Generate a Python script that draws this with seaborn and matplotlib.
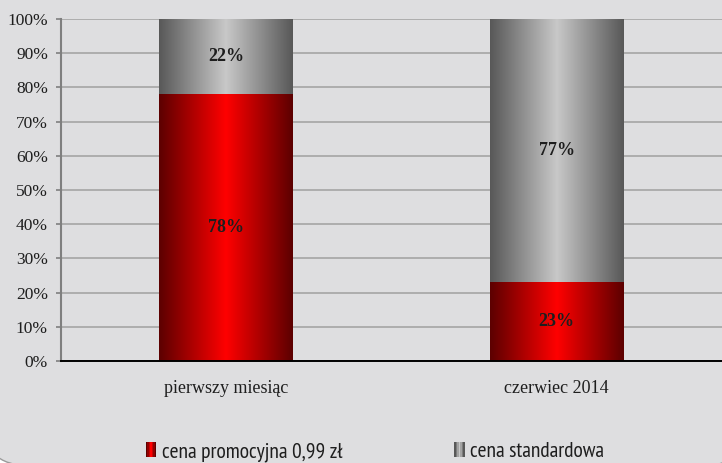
import numpy as np
import pandas as pd
import matplotlib
matplotlib.use("Agg")
import matplotlib.pyplot as plt
import seaborn as sns
from matplotlib.patches import Rectangle, FancyBboxPatch
from matplotlib.legend_handler import HandlerBase
from matplotlib.transforms import IdentityTransform

# --- data -------------------------------------------------------------
categories = ["pierwszy miesiąc", "czerwiec 2014"]
promo = [78, 23]          # cena promocyjna 0,99 zł (%)
standard = [22, 77]       # cena standardowa (%)
series_names = ["cena promocyjna 0,99 zł", "cena standardowa"]
y_ticks = list(range(0, 101, 10))

# --- styling ----------------------------------------------------------
sns.set_theme(style="white")
plt.rcParams["font.family"] = ["Liberation Serif", "DejaVu Serif"]

BG = "#dedee0"
RED_EDGE, RED_CENTRE = np.array([92, 0, 0]), np.array([255, 0, 0])
GREY_EDGE, GREY_CENTRE = np.array([88, 88, 88]), np.array([200, 200, 200])
TEXT = "#1e1e1e"

fig = plt.figure(figsize=(7.22, 4.63), dpi=100, facecolor="white")

# rounded chart-area frame (pixel coordinates)
frame = FancyBboxPatch((-19, -3), 770, 500,
                       boxstyle="round,pad=0,rounding_size=50",
                       transform=IdentityTransform(), facecolor=BG,
                       edgecolor="#9a9a9a", lw=1.0, zorder=-1)
fig.patches.append(frame)

ax = fig.add_axes([61 / 722, 1 - 361 / 463, 1 - 61 / 722, (361 - 19) / 463])
ax.set_facecolor("none")

df = pd.DataFrame({
    "kategoria": categories,
    "promo": promo,
    "total": [p + s for p, s in zip(promo, standard)],
})

BAR_W = 0.405
sns.barplot(data=df, x="kategoria", y="total", color="#a0a0a0",
            width=BAR_W, errorbar=None, ax=ax)
n_total = len(ax.patches)
sns.barplot(data=df, x="kategoria", y="promo", color="red",
            width=BAR_W, errorbar=None, ax=ax)


def shade(edge, centre, n=256):
    t = np.linspace(0, 1, n)
    k = 1 - np.abs(2 * t - 1)
    return (edge + (centre - edge) * k[:, None]) / 255.0


def gradient_fill(patch, edge, centre, z):
    x0, y0 = patch.get_x(), patch.get_y()
    w, h = patch.get_width(), patch.get_height()
    img = shade(edge, centre)[None, :, :]
    ax.imshow(img, extent=(x0, x0 + w, y0, y0 + h), aspect="auto",
              interpolation="bilinear", zorder=z)
    patch.set_visible(False)


patches = list(ax.patches)
for p in patches[:n_total]:
    gradient_fill(p, GREY_EDGE, GREY_CENTRE, 2)
for p in patches[n_total:]:
    gradient_fill(p, RED_EDGE, RED_CENTRE, 3)

# value labels inside each segment
for i, (p_val, s_val) in enumerate(zip(promo, standard)):
    ax.text(i, p_val / 2, f"{p_val}%", ha="center", va="center",
            fontsize=13, fontweight="bold", color=TEXT, zorder=5)
    ax.text(i, p_val + s_val / 2, f"{s_val}%", ha="center", va="center",
            fontsize=13, fontweight="bold", color=TEXT, zorder=5)

# --- axes -------------------------------------------------------------
ax.set_xlim(-0.5, 1.48)
ax.set_ylim(0, 100)
ax.set_xlabel("")
ax.set_ylabel("")

ax.set_yticks(y_ticks, labels=[f"{v}%" for v in y_ticks])
ax.yaxis.grid(True, color="#a9a9a9", lw=1.3)
ax.xaxis.grid(False)
ax.set_axisbelow(True)

ax.set_xticks([0, 1], labels=categories)
ax.set_xticks([-0.5, 0.5, 1.5], minor=True)
ax.tick_params(axis="x", which="major", length=0, pad=14,
               labelsize=13, labelcolor=TEXT)
ax.tick_params(axis="x", which="minor", length=3.6, width=1.2,
               color="#7f7f7f", direction="out")
ax.tick_params(axis="y", length=3.6, width=1.2, color="#7f7f7f", pad=5.8,
               labelsize=12.5, labelcolor=TEXT, left=True)

for side in ("top", "right"):
    ax.spines[side].set_visible(False)
ax.spines["left"].set_color("#7f7f7f")
ax.spines["left"].set_linewidth(1.5)
ax.spines["bottom"].set_color("black")
ax.spines["bottom"].set_linewidth(1.4)
ax.spines["bottom"].set_zorder(6)


# --- legend with shaded swatches --------------------------------------
class GradientHandler(HandlerBase):
    def __init__(self, edge, centre, stripes=7):
        super().__init__()
        self.edge, self.centre, self.stripes = edge, centre, stripes

    def create_artists(self, legend, orig_handle, xdescent, ydescent,
                       width, height, fontsize, trans):
        cols = shade(self.edge, self.centre, self.stripes)
        sw = width / self.stripes
        return [Rectangle((-xdescent + i * sw, -ydescent), sw, height,
                          facecolor=c, edgecolor="none", transform=trans)
                for i, c in enumerate(cols)]


h_promo = Rectangle((0, 0), 1, 1)
h_std = Rectangle((0, 0), 1, 1)
leg = fig.legend(
    [h_promo, h_std], series_names,
    handler_map={h_promo: GradientHandler(RED_EDGE, RED_CENTRE),
                 h_std: GradientHandler(GREY_EDGE, GREY_CENTRE)},
    loc="center", bbox_to_anchor=(375 / 722, 1 - 452 / 463), ncol=2,
    frameon=False,
    prop={"family": ["PT Sans Narrow", "Roboto Condensed", "Liberation Sans"],
          "size": 15.5},
    handlelength=0.5, handleheight=0.65, handletextpad=0.25,
    columnspacing=5.2,
)
for t in leg.get_texts():
    t.set_color(TEXT)

fig.savefig("out.png", dpi=100, facecolor=fig.get_facecolor())
